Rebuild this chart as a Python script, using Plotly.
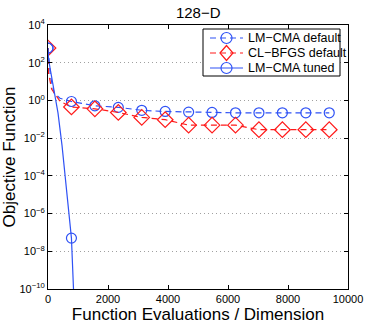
import plotly.graph_objects as go

# ---- data ----
marker_x = [781.25 * k for k in range(13)]
lmcma_default_marks = [600, 0.88, 0.52, 0.43, 0.30, 0.26, 0.24, 0.23, 0.22, 0.22, 0.22, 0.22, 0.22]
clbfgs_default_marks = [600, 0.45, 0.36, 0.23, 0.126, 0.095, 0.049, 0.049, 0.049, 0.028, 0.028, 0.028, 0.028]

lmcma_default_early_x = [0, 80, 200, 400]
lmcma_default_early_y = [600, 20, 2.5, 1.3]
clbfgs_default_early_x = [0, 15, 120, 400]
clbfgs_default_early_y = [600, 30, 4, 0.9]

lmcma_tuned_x = [0, 17, 67, 167, 333, 467, 567, 781.25, 850, 900]
lmcma_tuned_y = [600, 160, 54, 6.0, 0.22, 4.1e-3, 1.35e-4, 5.0e-8, 1e-10, 1e-11]

x_tick_vals = [0, 2000, 4000, 6000, 8000, 10000]
x_tick_text = ["0", "2000", "4000", "6000", "8000", "10000"]
y_tick_vals = [1e4, 1e2, 1e0, 1e-2, 1e-4, 1e-6, 1e-8, 1e-10]
y_tick_text = ["10<sup>4</sup>", "10<sup>2</sup>", "10<sup>0</sup>", "10<sup>\u22122</sup>",
               "10<sup>\u22124</sup>", "10<sup>\u22126</sup>", "10<sup>\u22128</sup>",
               "10<sup>\u221210</sup>"]

title_text = "128\u2212D"
x_label = "Function Evaluations / Dimension"
y_label = "Objective Function"
names = ["LM\u2212CMA default", "CL\u2212BFGS default", "LM\u2212CMA tuned"]

BLUE = "#2f52f5"
RED = "#ff1a1a"
FONT = "Liberation Sans, Arial, sans-serif"
CSIZE = 10
DSIZE = 12
DASH = "6px,4px"

W, H = 365, 326
ML, MR, MT, MB = 48, 17, 25, 37
PW, PH = W - ML - MR, H - MT - MB

fig = go.Figure()

def merge(ex, ey, mx, my):
    d = {}
    for x, y in zip(ex, ey):
        d[x] = y
    for x, y in zip(mx, my):
        d[x] = y
    xs = sorted(d)
    return xs, [d[x] for x in xs]

# LM-CMA default
lx, ly = merge(lmcma_default_early_x, lmcma_default_early_y, marker_x, lmcma_default_marks)
fig.add_trace(go.Scatter(x=lx, y=ly, mode="lines", line=dict(color=BLUE, width=1.2, dash=DASH),
                         showlegend=False, hoverinfo="skip", name=names[0]))
fig.add_trace(go.Scatter(x=marker_x, y=lmcma_default_marks, mode="markers", name=names[0],
                         marker=dict(symbol="circle-open", size=CSIZE, color=BLUE, line=dict(width=1.2)),
                         showlegend=False))
# CL-BFGS default
cx, cy = merge(clbfgs_default_early_x, clbfgs_default_early_y, marker_x, clbfgs_default_marks)
fig.add_trace(go.Scatter(x=cx, y=cy, mode="lines", line=dict(color=RED, width=1.2, dash=DASH),
                         showlegend=False, hoverinfo="skip", name=names[1]))
fig.add_trace(go.Scatter(x=marker_x, y=clbfgs_default_marks, mode="markers", name=names[1],
                         marker=dict(symbol="diamond-open", size=DSIZE, color=RED, line=dict(width=1.2)),
                         showlegend=False))
# LM-CMA tuned
fig.add_trace(go.Scatter(x=lmcma_tuned_x, y=lmcma_tuned_y, mode="lines", name=names[2],
                         line=dict(color=BLUE, width=1.2), showlegend=False, hoverinfo="skip"))
tuned_mx = [x for x in marker_x if x <= 900]
tuned_my = [lmcma_tuned_y[lmcma_tuned_x.index(x)] for x in tuned_mx]
fig.add_trace(go.Scatter(x=tuned_mx, y=tuned_my, mode="markers", name=names[2],
                         marker=dict(symbol="circle-open", size=CSIZE, color=BLUE, line=dict(width=1.2)),
                         showlegend=False))

# ---- manual legend (paper coordinates) ----
def px_x(px):
    return (px - ML) / PW

def px_y(py):
    return (H - MB - py) / PH

shapes = []
annotations = []
shapes.append(dict(type="rect", xref="paper", yref="paper",
                   x0=px_x(203), x1=px_x(340), y0=px_y(76), y1=px_y(29),
                   line=dict(color="black", width=1), fillcolor="white", layer="above"))
entry_y = [38, 53, 68]
entry_style = [(BLUE, DASH, "circle"), (RED, DASH, "diamond"), (BLUE, "solid", "circle")]
for name, ey, (col, dash, sym) in zip(names, entry_y, entry_style):
    shapes.append(dict(type="line", xref="paper", yref="paper",
                       x0=px_x(210), x1=px_x(243), y0=px_y(ey), y1=px_y(ey),
                       line=dict(color=col, width=1.2, dash=dash), layer="above"))
    cxp = 226.5
    if sym == "circle":
        r = 5.5
        shapes.append(dict(type="circle", xref="paper", yref="paper",
                           x0=px_x(cxp - r), x1=px_x(cxp + r), y0=px_y(ey + r), y1=px_y(ey - r),
                           line=dict(color=col, width=1.2), fillcolor="rgba(0,0,0,0)", layer="above"))
    else:
        hw, hh = 6.5, 7.5
        path = "M {a},{b} L {c},{d} L {e},{f} L {g},{h} Z".format(
            a=px_x(cxp - hw), b=px_y(ey), c=px_x(cxp), d=px_y(ey - hh),
            e=px_x(cxp + hw), f=px_y(ey), g=px_x(cxp), h=px_y(ey + hh))
        shapes.append(dict(type="path", xref="paper", yref="paper", path=path,
                           line=dict(color=col, width=1.2), fillcolor="rgba(0,0,0,0)", layer="above"))
    annotations.append(dict(text=name, xref="paper", yref="paper", x=px_x(246), y=px_y(ey),
                            xanchor="left", yanchor="middle", showarrow=False,
                            font=dict(size=12.5, family=FONT, color="black")))

fig.update_layout(
    width=W, height=H,
    margin=dict(l=ML, r=MR, t=MT, b=MB, autoexpand=False),
    paper_bgcolor="white", plot_bgcolor="white",
    font=dict(family=FONT, color="black", size=11),
    title=dict(text=title_text, x=0.543, xanchor="center", y=0.962, yanchor="middle",
               font=dict(size=15, family=FONT)),
    showlegend=False,
    shapes=shapes,
    annotations=annotations,
    xaxis=dict(range=[0, 10000], tickvals=x_tick_vals, ticktext=x_tick_text,
               showgrid=False, zeroline=False,
               showline=True, linecolor="black", linewidth=1, mirror="ticks",
               ticks="inside", ticklen=4, tickcolor="black",
               tickfont=dict(size=11), automargin=False,
               title=dict(text=x_label, font=dict(size=17), standoff=2)),
    yaxis=dict(type="log", range=[-10, 4], tickvals=y_tick_vals, ticktext=y_tick_text,
               showgrid=True,
               gridcolor="#a0a0a0", griddash="1px,3px", gridwidth=1, zeroline=False,
               showline=True, linecolor="black", linewidth=1, mirror="ticks",
               ticks="inside", ticklen=4, tickcolor="black",
               tickfont=dict(size=11), automargin=False,
               title=dict(text=y_label, font=dict(size=17), standoff=4)),
)

fig.write_html("out.html", config={"displayModeBar": False},
               post_script="document.body.style.margin='0';document.body.style.padding='0';")
